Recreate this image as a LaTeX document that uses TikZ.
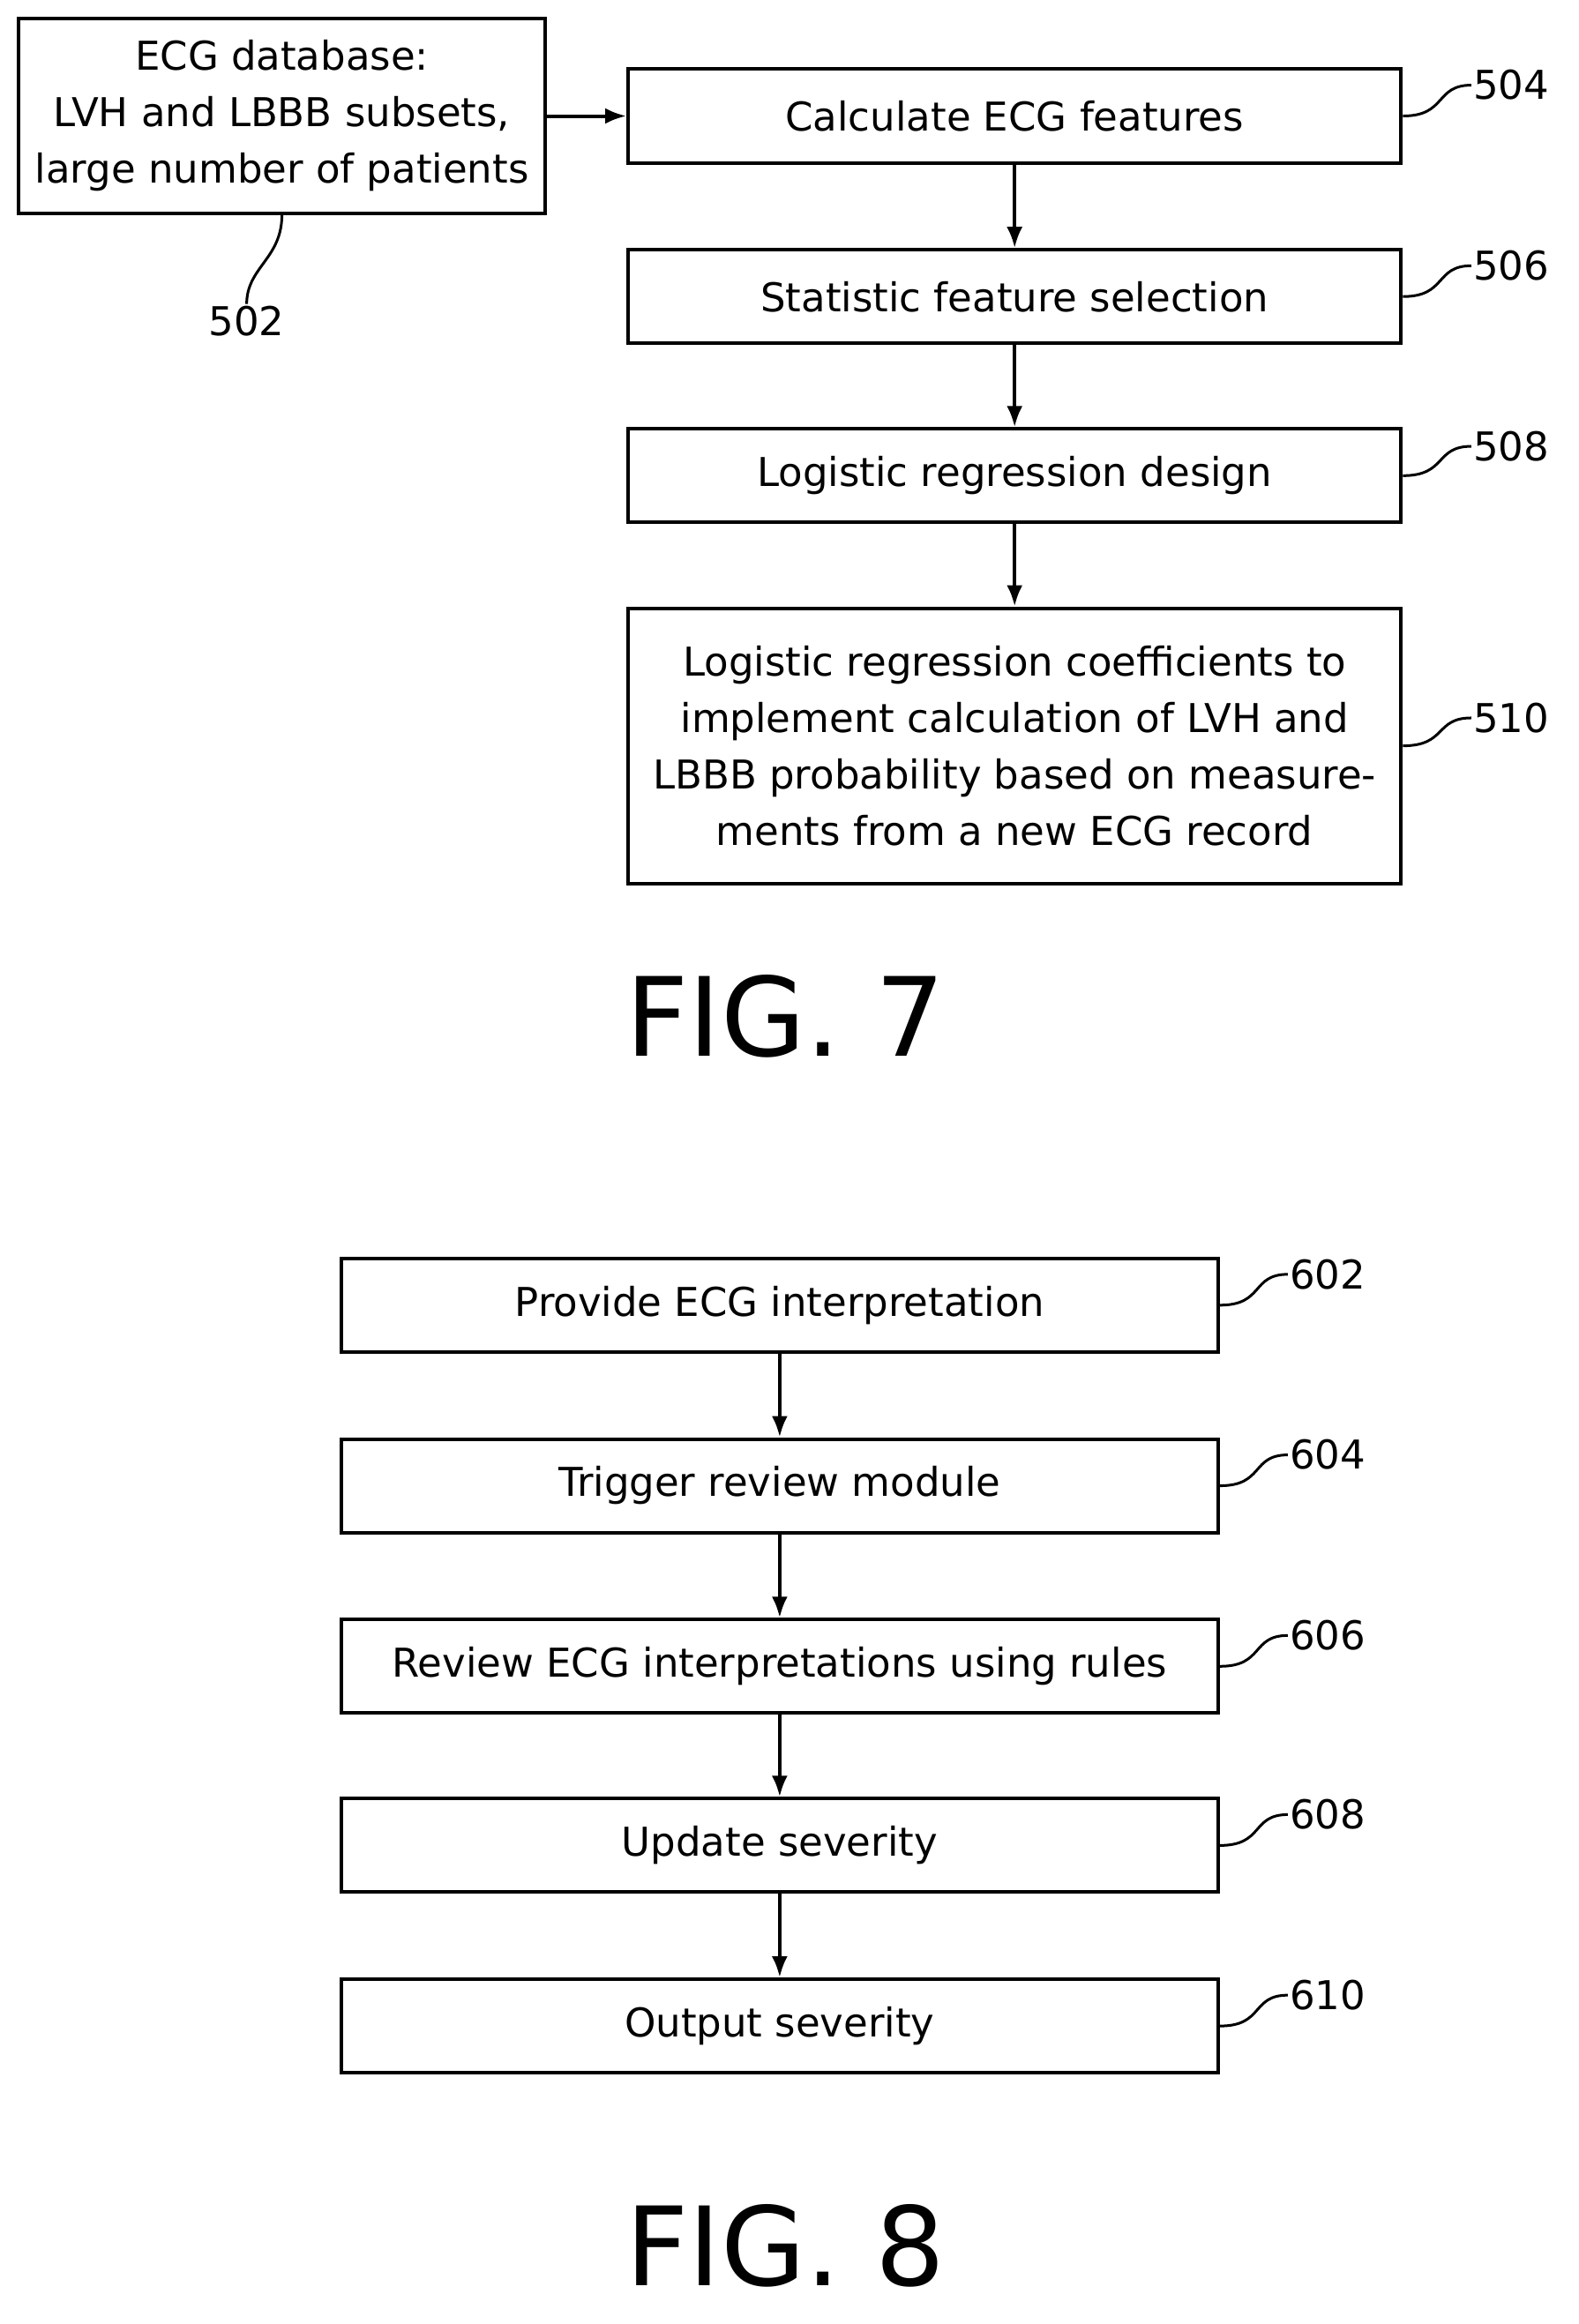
\documentclass[tikz,border=0pt]{standalone}
\usepackage{fontspec}
\setmainfont{DejaVu Sans}
\usetikzlibrary{positioning,arrows.meta}
\tikzset{
  stepbox/.style={draw, line width=2pt, minimum height=53pt, align=center, inner sep=2pt,
    font=\fontsize{22.5}{32}\selectfont},
  tag/.style={font=\fontsize{22.5}{26}\selectfont, inner sep=1pt},
  flow/.style={-{Latex[length=12pt,width=9pt]}, line width=2pt},
  lead/.style={line width=1.5pt},
  fig/.style={font=\fontsize{62}{68}\selectfont}
}
\begin{document}
\begin{tikzpicture}[x=0.832pt,y=-0.832pt]
  \useasboundingbox (0,0) rectangle (1075,1583);
  % FIG. 7
  \node[stepbox, minimum width=298pt, minimum height=110pt] (b502) at (192,79) {ECG database:\\LVH and LBBB subsets,\\large number of patients};
  \node[stepbox, minimum width=438pt] (b504) at (691,79) {Calculate ECG features};
  \node[stepbox, minimum width=438pt] (b506) at (691,202) {Statistic feature selection};
  \node[stepbox, minimum width=438pt] (b508) at (691,324) {Logistic regression design};
  \node[stepbox, minimum width=438pt, minimum height=156pt] (b510) at (691,508) {Logistic regression coefficients to\\implement calculation of LVH and\\LBBB probability based on measure-\\ments from a new ECG record};
  \node[tag, anchor=west] (l504) at (1002,58) {504};
  \node[tag, anchor=west] (l506) at (1002,181) {506};
  \node[tag, anchor=west] (l508) at (1002,304) {508};
  \node[tag, anchor=west] (l510) at (1002,489) {510};
  \node[tag, anchor=north] (l502) at (168,207) {502};
  \draw[flow] (b502) -- (b504);
  \draw[flow] (b504) -- (b506);
  \draw[flow] (b506) -- (b508);
  \draw[flow] (b508) -- (b510);
  \draw[lead] (b504.east) .. controls +(30,0) and +(-25,0) .. (l504.west);
  \draw[lead] (b506.east) .. controls +(30,0) and +(-25,0) .. (l506.west);
  \draw[lead] (b508.east) .. controls +(30,0) and +(-25,0) .. (l508.west);
  \draw[lead] (b510.east) .. controls +(30,0) and +(-25,0) .. (l510.west);
  \draw[lead] (b502.south) .. controls +(0,30) and +(0,-25) .. (l502.north);
  \node[fig] (f7) at (535,692) {FIG. 7};
  % FIG. 8
  \node[stepbox, minimum width=497pt] (b602) at (531,889) {Provide ECG interpretation};
  \node[stepbox, minimum width=497pt] (b604) at (531,1012) {Trigger review module};
  \node[stepbox, minimum width=497pt] (b606) at (531,1135) {Review ECG interpretations using rules};
  \node[stepbox, minimum width=497pt] (b608) at (531,1257) {Update severity};
  \node[stepbox, minimum width=497pt] (b610) at (531,1380) {Output severity};
  \foreach \a/\b in {602/604,604/606,606/608,608/610}
    \draw[flow] (b\a) -- (b\b);
  \foreach \n/\y in {602/868,604/991,606/1114,608/1236,610/1359} {
    \node[tag, anchor=west] (l\n) at (877,\y) {\n};
    \draw[lead] (b\n.east) .. controls +(30,0) and +(-25,0) .. (l\n.west);
  }
  \node[fig] (f8) at (535,1530) {FIG. 8};
\end{tikzpicture}
\end{document}
